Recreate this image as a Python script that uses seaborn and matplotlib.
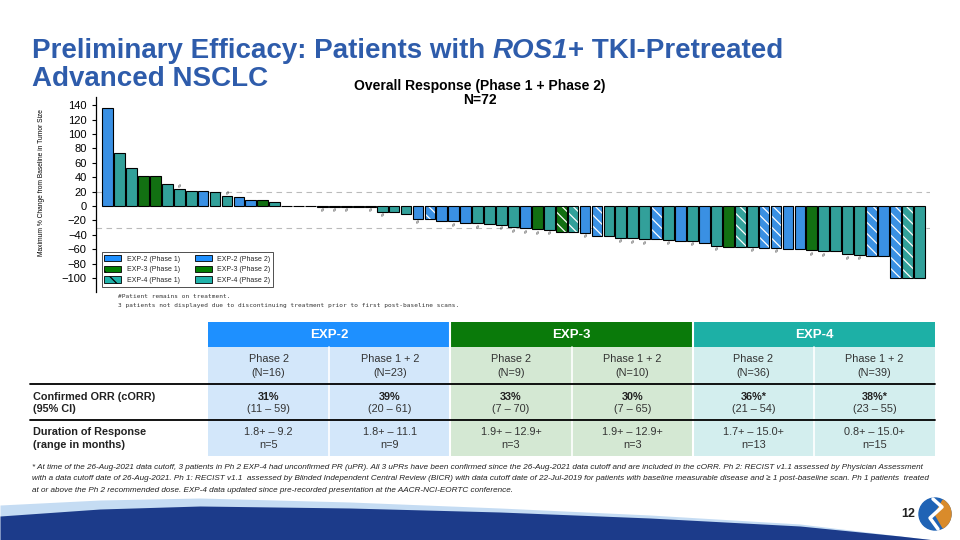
import numpy as np
import pandas as pd
import matplotlib
matplotlib.use("Agg")
import matplotlib.pyplot as plt
from matplotlib.patches import Rectangle, Patch, Circle, Wedge
import seaborn as sns

# waterfall data (one value per displayed patient, sorted)
change = [136, 74, 53, 42, 41, 30, 23, 21.5, 21, 19, 13.5, 13, 9, 9, 5,
          0, 0, 0, -1, -1, -1, -1, -1,
          -8, -8, -11, -18, -18, -21, -21, -24, -24, -25, -26, -29.5, -31, -32, -33,
          -35.5, -36, -37, -42, -42, -44, -45, -46, -46, -47, -48, -48, -51, -55,
          -56.5, -56.5, -56.5, -58, -58, -59, -60, -61.5, -63, -63, -67, -68, -70,
          -70, -100, -100, -100]
cohort = [2, 4, 4, 3, 3, 4, 4, 4, 2, 4, 4, 2, 2, 3, 4,
          4, 3, 4, 2, 4, 3, 4, 4,
          4, 4, 4, 2, 2, 2, 2, 2, 4, 4, 4, 4, 2, 3, 4,
          3, 4, 2, 2, 4, 4, 4, 4, 2, 4, 2, 4, 2, 4,
          3, 4, 4, 2, 2, 2, 2, 3, 4, 4, 4, 4, 2,
          2, 2, 4, 4]
phase = [2, 2, 2, 2, 2, 2, 2, 2, 2, 2, 2, 2, 2, 2, 2,
         2, 2, 2, 2, 2, 2, 2, 2,
         2, 2, 2, 2, 1, 2, 2, 2, 2, 2, 2, 2, 2, 2, 2,
         1, 1, 2, 1, 2, 2, 2, 2, 1, 2, 2, 2, 2, 2,
         2, 1, 2, 1, 1, 2, 2, 2, 2, 2, 2, 2, 1,
         2, 1, 1, 2]
on_treatment = [0, 0, 0, 0, 0, 0, 1, 0, 0, 0, 1, 0, 0, 0, 0,
                0, 0, 0, 1, 1, 1, 0, 1,
                1, 0, 0, 1, 0, 0, 1, 0, 1, 0, 1, 1, 1, 1, 1,
                0, 0, 1, 0, 0, 1, 1, 1, 0, 1, 0, 1, 0, 1,
                0, 0, 1, 0, 1, 0, 0, 1, 1, 0, 1, 1, 0,
                0, 0, 0, 0]

cohort_colors = {2: "#1E90FF", 3: "#037F03", 4: "#20B2AA"}

# table data
groups = ["EXP-2", "EXP-3", "EXP-4"]
group_hdr = ["#1E90FF", "#0A7A0A", "#1DB0A6"]
group_body = ["#D3E7FA", "#D4E8D3", "#D3EEEE"]
col_phase = ["Phase 2", "Phase 1 + 2"] * 3
col_n = ["(N=16)", "(N=23)", "(N=9)", "(N=10)", "(N=36)", "(N=39)"]
orr = ["31%", "39%", "33%", "30%", "36%*", "38%*"]
orr_ci = ["(11 \u2013 59)", "(20 \u2013 61)", "(7 \u2013 70)", "(7 \u2013 65)", "(21 \u2013 54)", "(23 \u2013 55)"]
dor = ["1.8+ \u2013 9.2", "1.8+ \u2013 11.1", "1.9+ \u2013 12.9+", "1.9+ \u2013 12.9+", "1.7+ \u2013 15.0+", "0.8+ \u2013 15.0+"]
dor_n = ["n=5", "n=9", "n=3", "n=3", "n=13", "n=15"]

footnote = ("* At time of the 26-Aug-2021 data cutoff, 3 patients in Ph 2 EXP-4 had unconfirmed PR (uPR). All 3 uPRs have been confirmed since the 26-Aug-2021 data cutoff and are included in the cORR. Ph 2: RECIST v1.1 assessed by Physician Assessment\n"
            "with a data cutoff date of 26-Aug-2021. Ph 1: RECIST v1.1  assessed by Blinded Independent Central Review (BICR) with data cutoff date of 22-Jul-2019 for patients with baseline measurable disease and \u2265 1 post-baseline scan. Ph 1 patients  treated\n"
            "at or above the Ph 2 recommended dose. EXP-4 data updated since pre-recorded presentation at the AACR-NCI-EORTC conference.")

sns.set_theme(style="white")
plt.rcParams["font.family"] = ["Liberation Sans", "DejaVu Sans"]
plt.rcParams["hatch.linewidth"] = 0.9

fig = plt.figure(figsize=(9.6, 5.4), dpi=100)

# full-slide overlay in pixel coordinates
bg = fig.add_axes([0, 0, 1, 1], zorder=0)
bg.set_xlim(0, 960)
bg.set_ylim(540, 0)
bg.axis("off")

# slide title
title_blue = "#2E5CAB"
r = fig.canvas.get_renderer()
def tw(s, **kw):
    t = bg.text(0, 0, s, **kw)
    w = t.get_window_extent(renderer=r).width
    t.remove()
    return w
tkw = dict(fontsize=20, fontweight="bold", color=title_blue, va="baseline")
space = tw("a a", **tkw) - tw("aa", **tkw)
x = 32
for part, style in [("Preliminary Efficacy: Patients with", "normal"), ("ROS1", "italic"),
                    ("+ TKI-Pretreated", "normal")]:
    t = bg.text(x, 58, part, fontstyle=style, **tkw)
    x += t.get_window_extent(renderer=r).width
    if style == "normal" and part.endswith("with"):
        x += space
bg.text(32, 86, "Advanced NSCLC", **tkw)

bg.text(480, 86, "Overall Response (Phase 1 + Phase 2)", fontsize=10, fontweight="bold",
        ha="center", va="center", color="black")
bg.text(480, 100, "N=72", fontsize=10, fontweight="bold", ha="center", va="center", color="black")

# waterfall
df = pd.DataFrame({"pos": np.arange(len(change)), "change": change,
                   "cohort": cohort, "phase": phase, "mark": on_treatment})
ax = fig.add_axes([95.7 / 960, 1 - 292 / 540, (930 - 95.7) / 960, 195 / 540], zorder=1)
ax.set_facecolor("none")
sns.barplot(data=df, x="pos", y="change", hue="cohort", palette=cohort_colors, dodge=False,
            width=0.9, edgecolor="black", linewidth=0.8, errorbar=None, legend=False, ax=ax)

for p in list(ax.patches):
    i = int(round(p.get_x() + p.get_width() / 2))
    if df.loc[i, "phase"] == 1:
        p.set_hatch("\\\\\\")
        p.set_edgecolor("white")
        p.set_linewidth(0)
        ax.add_patch(Rectangle((p.get_x(), p.get_y()), p.get_width(), p.get_height(),
                               fill=False, edgecolor="black", lw=0.8, zorder=p.get_zorder() + 0.1))

for i, row in df.iterrows():
    if row["mark"]:
        if row["change"] > 0:
            ax.text(i, row["change"] + 1, "#", fontsize=4, ha="center", va="bottom", color="#333333")
        else:
            ax.text(i, row["change"] - 2, "#", fontsize=4, ha="center", va="top", color="#333333")

ax.axhline(20, color="#BBBBBB", lw=0.8, ls=(0, (5, 4)), zorder=0)
ax.axhline(-30, color="#BBBBBB", lw=0.8, ls=(0, (5, 4)), zorder=0)
ax.set_xlim(-1.0, 68.9)
ax.set_ylim(-119.4, 151.4)
ax.set_yticks(np.arange(-100, 141, 20))
ax.tick_params(axis="y", labelsize=8, length=3, width=0.8, colors="black", left=True)
ax.set_xticks([])
ax.set_xlabel("")
ax.set_ylabel("Maximum % Change from Baseline in Tumor Size", fontsize=4.8, color="black")
ax.yaxis.set_label_coords(-0.061, 0.56)
for s in ["top", "right", "bottom"]:
    ax.spines[s].set_visible(False)
ax.spines["left"].set_color("black")
ax.spines["left"].set_linewidth(0.9)

handles = []
labels = []
for ph in [1, 2]:
    for c in [2, 3, 4]:
        handles.append(Patch(facecolor=cohort_colors[c], edgecolor="black", lw=0.6,
                             hatch="\\" if ph == 1 else None))
        labels.append(f"EXP-{c} (Phase {ph})")
leg = ax.legend(handles, labels, ncol=2, loc="lower left", bbox_to_anchor=(0.003, 0.01),
                fontsize=5, frameon=True, fancybox=False, edgecolor="black", handlelength=2.4,
                handleheight=1.0, columnspacing=2.2, borderpad=0.4, labelspacing=0.45)
leg.get_frame().set_linewidth(0.6)

bg.text(118, 297, "#Patient remains on treatment.", fontsize=4.4, family="DejaVu Sans Mono",
        va="center", color="#333333")
bg.text(118, 305, "3 patients not displayed due to discontinuing treatment prior to first post-baseline scans.",
        fontsize=4.4, family="DejaVu Sans Mono", va="center", color="#333333")

# table
col_w = 121.2
cx = [208 + k * col_w for k in range(7)]
for g in range(3):
    bg.add_patch(Rectangle((cx[2 * g], 322), 2 * col_w, 25, color=group_hdr[g], lw=0))
    bg.add_patch(Rectangle((cx[2 * g], 347), 2 * col_w, 109, color=group_body[g], lw=0))
    bg.text(cx[2 * g] + col_w, 334.5, groups[g], color="white", fontsize=9.5, fontweight="bold",
            ha="center", va="center")
for k in [2, 4]:
    bg.plot([cx[k], cx[k]], [322, 456], color="white", lw=1.5)
for k in [1, 3, 5]:
    bg.plot([cx[k], cx[k]], [347, 456], color="white", lw=1.2)
for yl in [384, 420]:
    bg.plot([30, 935], [yl, yl], color="black", lw=1.3)
for k in range(6):
    xc = cx[k] + col_w / 2
    bg.text(xc, 359.5, col_phase[k], fontsize=7.8, ha="center", va="center", color="#333333")
    bg.text(xc, 372.5, col_n[k], fontsize=7.8, ha="center", va="center", color="#333333")
    bg.text(xc, 396.5, orr[k], fontsize=7.8, fontweight="bold", ha="center", va="center", color="#222222")
    bg.text(xc, 409, orr_ci[k], fontsize=7.8, ha="center", va="center", color="#333333")
    bg.text(xc, 432, dor[k], fontsize=7.8, ha="center", va="center", color="#333333")
    bg.text(xc, 444.5, dor_n[k], fontsize=7.8, ha="center", va="center", color="#333333")
bg.text(33, 396.5, "Confirmed ORR (cORR)", fontsize=7.8, fontweight="bold", va="center", color="#222222")
bg.text(33, 409, "(95% CI)", fontsize=7.8, fontweight="bold", va="center", color="#222222")
bg.text(33, 432, "Duration of Response", fontsize=7.8, fontweight="bold", va="center", color="#222222")
bg.text(33, 444.5, "(range in months)", fontsize=7.8, fontweight="bold", va="center", color="#222222")

bg.text(32, 464, footnote, fontsize=5.85, fontstyle="italic", va="top", color="#222222", linespacing=1.85)

# bottom decoration
wx = [0, 100, 200, 350, 500, 650, 800, 900, 935]
wy_light = [505, 500, 498, 502, 508, 515, 524, 536, 540]
wy_dark = [516, 509, 506, 508, 512, 518, 526, 536, 540]
bg.fill_between(wx, wy_light, 540, color="#7FB2E5", alpha=0.45, lw=0)
bg.fill_between(wx, wy_dark, 540, color="#1C3B8A", lw=0)
bg.text(908, 514, "12", fontsize=9, fontweight="bold", ha="center", va="center", color="#222222")
bg.add_patch(Circle((935, 514), 16, color="#1F63B5"))
bg.add_patch(Wedge((935, 514), 16, -60, 60, color="#D98B2B"))
bg.plot([933, 942, 930, 938], [499, 507, 518, 529], color="white", lw=2.5)

fig.savefig("out.png", dpi=100)
